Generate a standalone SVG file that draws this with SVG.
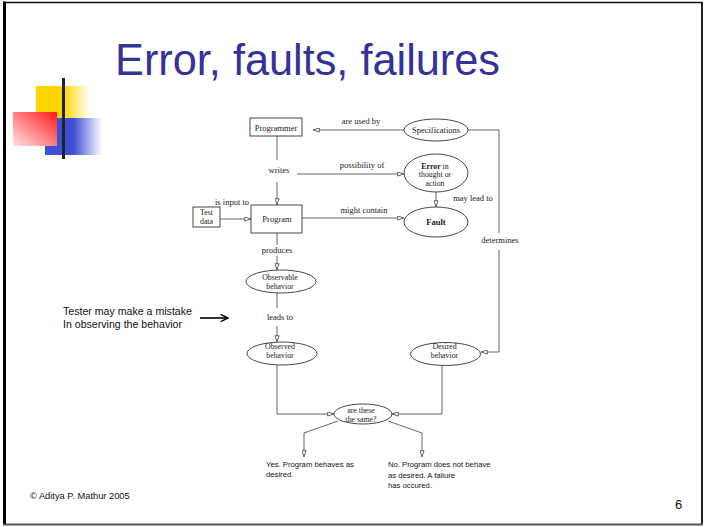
<svg xmlns="http://www.w3.org/2000/svg" width="705" height="527" viewBox="0 0 705 527">
  <defs>
    <linearGradient id="gYellow" x1="0" y1="0" x2="1" y2="0">
      <stop offset="0" stop-color="#FFD500"/>
      <stop offset="0.5" stop-color="#FFD500"/>
      <stop offset="1" stop-color="#FFFFFF"/>
    </linearGradient>
    <linearGradient id="gBlue" x1="0" y1="0" x2="1" y2="0">
      <stop offset="0" stop-color="#3F4FD6"/>
      <stop offset="0.5" stop-color="#3F4FD6"/>
      <stop offset="1" stop-color="#FFFFFF"/>
    </linearGradient>
    <linearGradient id="gRed" x1="1" y1="0" x2="0" y2="1">
      <stop offset="0" stop-color="#FF1A1A"/>
      <stop offset="1" stop-color="#FFE4E4"/>
    </linearGradient>
    <linearGradient id="gDark" x1="0" y1="0" x2="1" y2="0">
      <stop offset="0" stop-color="#222222"/>
      <stop offset="1" stop-color="#666666"/>
    </linearGradient>
    <linearGradient id="gGray" x1="0" y1="0" x2="1" y2="0">
      <stop offset="0" stop-color="#BBBBBB"/>
      <stop offset="1" stop-color="#FFFFFF"/>
    </linearGradient>
    <marker id="tri" viewBox="0 0 8 6" refX="8" refY="3" markerUnits="userSpaceOnUse" markerWidth="7" markerHeight="5" orient="auto">
      <path d="M0.5,0.5 L7.5,3 L0.5,5.5 Z" fill="#FFFFFF" stroke="#444444" stroke-width="1"/>
    </marker>
    <marker id="open" viewBox="0 0 10 10" refX="9" refY="5" markerUnits="userSpaceOnUse" markerWidth="9" markerHeight="9" orient="auto">
      <path d="M1,1 L9,5 L1,9" fill="none" stroke="#000000" stroke-width="1.6"/>
    </marker>
  </defs>
  <style>
    .node { fill: #FFFFFF; stroke: #333333; stroke-width: 0.9; }
    .lbl { font-family: "Liberation Serif", serif; font-size: 8.5px; fill: #1A1A1A; text-anchor: middle; }
    .sm { font-size: 7.8px; }
    .bold { font-weight: bold; }
    .conn path { fill: none; stroke: #555555; stroke-width: 0.9; }
    .note { font-family: "Liberation Sans", sans-serif; fill: #111111; }
  </style>

  <!-- slide frame -->
  <rect x="0" y="0" width="705" height="527" fill="#FFFFFF"/>
  <line x1="4.5" y1="1.5" x2="4.5" y2="525" stroke="#000000" stroke-width="3"/>
  <line x1="3" y1="2.5" x2="703" y2="2.5" stroke="#111111" stroke-width="1.5"/>
  <line x1="702" y1="2" x2="702" y2="525" stroke="#222222" stroke-width="2"/>
  <line x1="3" y1="524.5" x2="703" y2="524.5" stroke="#555555" stroke-width="2"/>

  <!-- corner ornament -->
  <rect x="36" y="86" width="54" height="32" fill="url(#gYellow)"/>
  <rect x="45" y="118" width="57" height="37" fill="url(#gBlue)"/>
  <rect x="13" y="112" width="44" height="34" fill="url(#gRed)"/>
  <line x1="63.5" y1="78" x2="63.5" y2="159" stroke="#222222" stroke-width="3"/>
  <line x1="37" y1="139.5" x2="192" y2="139.5" stroke="url(#gDark)" stroke-width="2.5"/>
  <line x1="522" y1="139.5" x2="670" y2="139.5" stroke="url(#gGray)" stroke-width="3"/>

  <!-- title -->
  <text x="115" y="75" font-family="Liberation Sans, sans-serif" font-size="44" fill="#333399" textLength="385" lengthAdjust="spacingAndGlyphs">Error, faults, failures</text>

  <!-- connectors -->
  <g id="connectors" class="conn">
    <path d="M404,130 H313" marker-end="url(#tri)"/>
    <path d="M468,130 H499 V233"/>
    <path d="M499,250 V352 H481" marker-end="url(#tri)"/>
    <path d="M277,136 V160"/>
    <path d="M277,182 V205" marker-end="url(#tri)"/>
    <path d="M297,174 H404" marker-end="url(#tri)"/>
    <path d="M220,219 H251" marker-end="url(#tri)"/>
    <path d="M302,218 H404" marker-end="url(#tri)"/>
    <path d="M436,192 V207" marker-end="url(#tri)"/>
    <path d="M277,233 V245"/>
    <path d="M277,256 V270" marker-end="url(#tri)"/>
    <path d="M277,287 V308"/>
    <path d="M277,326 V342" marker-end="url(#tri)"/>
    <path d="M277,365 V414 H334" marker-end="url(#tri)"/>
    <path d="M442,366 V414 H392" marker-end="url(#tri)"/>
    <path d="M338,421 L304,433 V457" marker-end="url(#tri)"/>
    <path d="M388,421 L422,433 V457" marker-end="url(#tri)"/>
  </g>

  <!-- edge labels -->
  <g id="edge-labels">
    <text class="lbl" x="361" y="124">are  used by</text>
    <text class="lbl" x="362" y="168">possibility of</text>
    <text class="lbl" x="279" y="173">writes</text>
    <text class="lbl" x="232" y="205">is input to</text>
    <text class="lbl" x="364" y="213">might contain</text>
    <text class="lbl" x="473" y="201">may lead to</text>
    <text class="lbl" x="500" y="243">determines</text>
    <text class="lbl" x="277" y="253">produces</text>
    <text class="lbl" x="280" y="319.5">leads to</text>
  </g>

  <!-- nodes -->
  <g id="programmer">
    <rect class="node" x="250" y="118" width="52" height="18"/>
    <text class="lbl" x="276" y="131">Programmer</text>
  </g>
  <g id="specifications">
    <ellipse class="node" cx="436" cy="130" rx="32" ry="11"/>
    <text class="lbl" x="436" y="133">Specifications</text>
  </g>
  <g id="error">
    <ellipse class="node" cx="436" cy="173" rx="32" ry="19"/>
    <text class="lbl sm" x="435" y="168.5"><tspan class="bold">Error</tspan> in</text>
    <text class="lbl sm" x="435" y="177">thought or</text>
    <text class="lbl sm" x="435" y="185.5">action</text>
  </g>
  <g id="fault">
    <ellipse class="node" cx="436" cy="222" rx="32" ry="15"/>
    <text class="lbl bold" x="436" y="225">Fault</text>
  </g>
  <g id="test-data">
    <rect class="node" x="193" y="207" width="27" height="20"/>
    <text class="lbl sm" x="206.5" y="215">Test</text>
    <text class="lbl sm" x="206.5" y="223.5">data</text>
  </g>
  <g id="program">
    <rect class="node" x="251" y="205" width="51" height="28"/>
    <text class="lbl" x="277" y="222">Program</text>
  </g>
  <g id="observable-behavior">
    <ellipse class="node" cx="281" cy="281.5" rx="35" ry="11.5"/>
    <text class="lbl sm" x="280" y="279.5">Observable</text>
    <text class="lbl sm" x="280" y="288.5">behavior</text>
  </g>
  <g id="observed-behavior">
    <ellipse class="node" cx="282" cy="353.5" rx="35" ry="11.5"/>
    <text class="lbl sm" x="280" y="349">Observed</text>
    <text class="lbl sm" x="280" y="358">behavior</text>
  </g>
  <g id="desired-behavior">
    <ellipse class="node" cx="445.5" cy="354" rx="35" ry="11.5"/>
    <text class="lbl sm" x="444.5" y="349">Desired</text>
    <text class="lbl sm" x="444.5" y="358">behavior</text>
  </g>
  <g id="are-these-the-same">
    <ellipse class="node" cx="363" cy="414" rx="29" ry="10"/>
    <text class="lbl sm" x="361" y="412.5">are these</text>
    <text class="lbl sm" x="361" y="421.5">the same?</text>
  </g>

  <!-- outcomes -->
  <g id="outcome-yes" class="note" font-size="7.7">
    <text x="266" y="467">Yes. Program behaves as</text>
    <text x="266" y="477">desired.</text>
  </g>
  <g id="outcome-no" class="note" font-size="7.7">
    <text x="388" y="467">No. Program does not behave</text>
    <text x="388" y="477.5">as desired. A failure</text>
    <text x="388" y="488">has occured.</text>
  </g>

  <!-- side note -->
  <g id="tester-note" class="note" font-size="10.6">
    <text x="63" y="315">Tester may make a mistake</text>
    <text x="63" y="327.5">In observing the behavior</text>
    <line x1="200" y1="318" x2="228" y2="318" stroke="#000000" stroke-width="1.6" marker-end="url(#open)"/>
  </g>

  <!-- footer -->
  <text class="note" x="30" y="499" font-size="9.3">© Aditya P. Mathur 2005</text>
  <text class="note" x="675" y="509" font-size="13">6</text>
</svg>
